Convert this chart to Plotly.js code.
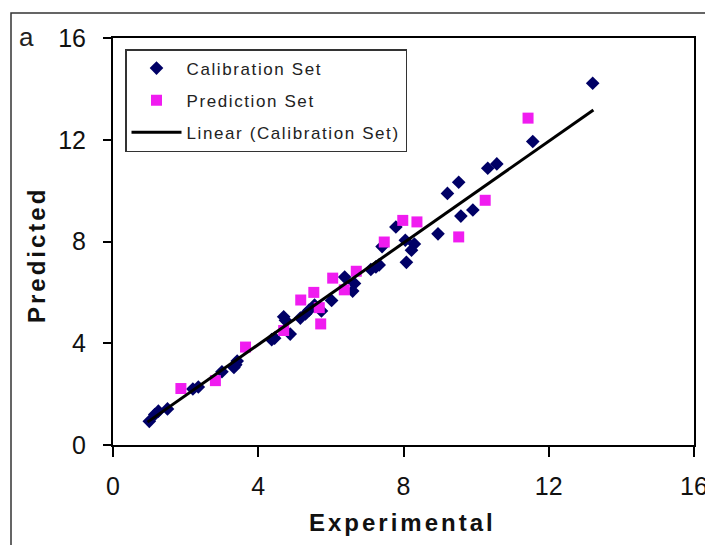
<!DOCTYPE html>
<html>
<head>
<meta charset="utf-8">
<script src="https://cdn.plot.ly/plotly-3.0.1.min.js"></script>
<style>
html,body{margin:0;padding:0;background:#fff;}
#chart{width:705px;height:545px;}
.annotation-text{letter-spacing:3px;}
.legendtext{letter-spacing:1.6px;}
</style>
</head>
<body>
<div id="chart"></div>
<script>
// Calibration set (experimental, predicted)
var calX = [1.0, 1.15, 1.25, 1.5, 2.2, 2.35, 3.0, 3.33, 3.38, 3.42, 4.37, 4.45, 4.7, 4.75, 4.88, 5.16, 5.3, 5.4, 5.55, 5.74, 6.02, 6.38, 6.6, 6.65, 7.1, 7.24, 7.33, 7.41, 7.79, 8.05, 8.08, 8.22, 8.3, 8.95, 9.21, 9.52, 9.58, 9.91, 10.32, 10.57, 11.56, 13.21];
var calY = [0.93, 1.2, 1.33, 1.42, 2.2, 2.28, 2.88, 3.05, 3.15, 3.3, 4.14, 4.2, 5.04, 4.9, 4.36, 4.99, 5.15, 5.3, 5.5, 5.27, 5.68, 6.6, 6.05, 6.35, 6.9, 7.0, 7.08, 7.8, 8.57, 8.05, 7.18, 7.66, 7.9, 8.3, 9.89, 10.33, 9.0, 9.24, 10.88, 11.05, 11.93, 14.22];
// Prediction set
var preX = [1.87, 2.82, 3.65, 4.7, 5.17, 5.53, 5.72, 5.68, 6.05, 6.37, 6.7, 7.47, 7.98, 8.37, 9.52, 10.25, 11.43];
var preY = [2.22, 2.53, 3.85, 4.5, 5.7, 6.0, 4.76, 5.4, 6.56, 6.1, 6.83, 7.98, 8.83, 8.77, 8.18, 9.62, 12.85];
// Linear trendline (Calibration Set), end points as drawn
var trendX = [0.95, 13.23];
var trendY = [0.9, 13.17];
var tickVals = [0, 4, 8, 12, 16];

var FONT = 'Liberation Sans, Arial, sans-serif';
var traces = [
  {x: calX, y: calY, type: 'scatter', mode: 'markers', name: 'Calibration Set', legendgroup: 'a',
   marker: {symbol: 'diamond', size: 10.5, color: '#000066'}},
  {x: preX, y: preY, type: 'scatter', mode: 'markers', name: 'Prediction Set', legendgroup: 'b',
   marker: {symbol: 'square', size: 11, color: '#f01cf0'}},
  {x: trendX, y: trendY, type: 'scatter', mode: 'lines', name: 'Linear (Calibration Set)', legendgroup: 'c',
   line: {color: '#000000', width: 3}}
];

var W = 581, H = 407, L = 113, T = 38;
function px(x){ return (x - L)/W; }
function py(y){ return (T + H - y)/H; }

var layout = {
  width: 705, height: 545,
  margin: {l: 113, r: 11, t: 38, b: 100},
  paper_bgcolor: '#ffffff', plot_bgcolor: '#ffffff',
  font: {family: FONT, color: '#000'},
  showlegend: true,
  legend: {x: px(125), y: py(49), xanchor: 'left', yanchor: 'top',
    bgcolor: '#ffffff', bordercolor: '#333333', borderwidth: 1.5,
    font: {family: FONT, size: 17, color: '#222'}, itemwidth: 50,
    tracegroupgap: 7, traceorder: 'grouped'},
  xaxis: {range: [0, 16], tickvals: tickVals, ticktext: tickVals.map(String),
    showgrid: false, zeroline: false, showline: true, mirror: true, linecolor: '#000', linewidth: 2,
    ticks: 'outside', ticklen: 10, tickwidth: 2, tickcolor: '#000', ticklabelstandoff: 8,
    ticklabeloverflow: 'allow',
    tickfont: {family: FONT, size: 25, color: '#111'}},
  yaxis: {range: [0, 16], tickvals: tickVals, ticktext: tickVals.map(String),
    showgrid: false, zeroline: false, showline: true, mirror: true, linecolor: '#000', linewidth: 2,
    ticks: 'outside', ticklen: 8, tickwidth: 2, tickcolor: '#000', ticklabelstandoff: 12,
    ticklabeloverflow: 'allow',
    tickfont: {family: FONT, size: 25, color: '#111'}},
  shapes: [
    {type: 'rect', xref: 'paper', yref: 'paper', x0: px(11), x1: px(712), y0: py(13), y1: py(552),
     line: {color: '#333', width: 1.5}, fillcolor: 'rgba(0,0,0,0)', layer: 'below'}
  ],
  annotations: [
    {text: 'a', xref: 'paper', yref: 'paper', x: px(27), y: py(37), xanchor: 'center', yanchor: 'middle',
     showarrow: false, font: {family: FONT, size: 26, color: '#222'}},
    {text: '<b>Experimental</b>', xref: 'paper', yref: 'paper', x: px(402), y: py(522), xanchor: 'center', yanchor: 'middle',
     showarrow: false, font: {family: FONT, size: 24, color: '#111'}},
    {text: '<b>Predicted</b>', xref: 'paper', yref: 'paper', x: px(36), y: py(255), xanchor: 'center', yanchor: 'middle',
     textangle: -90, showarrow: false, font: {family: FONT, size: 24, color: '#111'}}
  ]
};

Plotly.newPlot('chart', traces, layout, {displayModeBar: false, staticPlot: true});
</script>
</body>
</html>
